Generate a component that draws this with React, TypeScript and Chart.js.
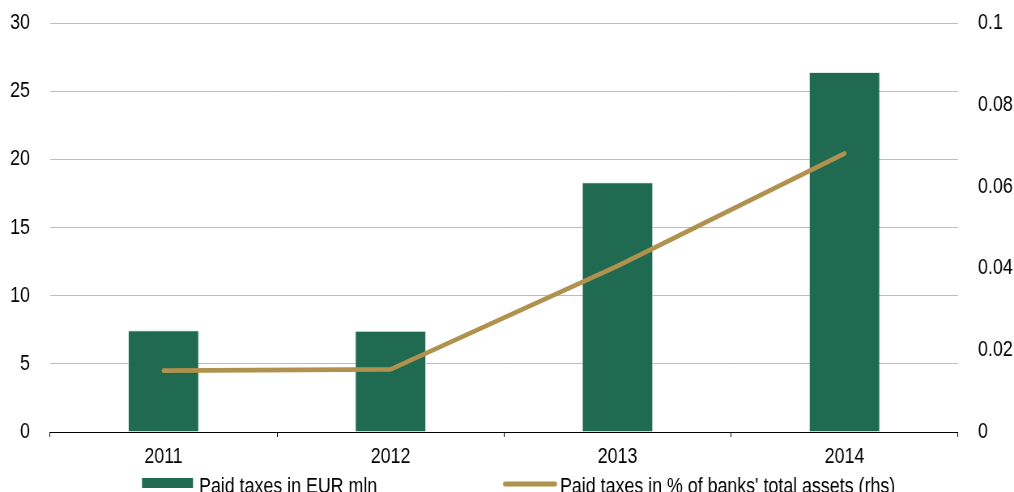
import React, { useEffect, useRef } from "react";
import { Chart, registerables } from "chart.js";

Chart.register(...registerables);

const categories = ["2011", "2012", "2013", "2014"];
const paidTaxesEurMln = [7.46, 7.43, 18.32, 26.41];
const paidTaxesPctAssets = [0.015, 0.0153, 0.0406, 0.0681];
const leftTicks = [0, 5, 10, 15, 20, 25, 30];
const rightTicks = [0, 0.02, 0.04, 0.06, 0.08, 0.1];
const seriesNames = ["Paid taxes in EUR mln", "Paid taxes in % of banks' total assets (rhs)"];

const FONT = "'Liberation Sans', Arial, sans-serif";
const FONT_SIZE = 22;
const BAR_COLOR = "#206A51";
const LINE_COLOR = "#B0914D";

// Horizontal compression to imitate a narrow typeface
const W = 1014;
const H = 492;
const SX = 0.81;
const CW = Math.round(W / SX);
const S = W / CW;
const px = (x: number) => x / S;

const legendPlugin = {
  id: "customLegend",
  afterDraw(chart: any) {
    const ctx = chart.ctx;
    ctx.save();
    ctx.font = `${FONT_SIZE}px ${FONT}`;
    ctx.textBaseline = "alphabetic";
    ctx.textAlign = "left";
    ctx.fillStyle = BAR_COLOR;
    ctx.fillRect(px(142), 478, px(193) - px(142), 10);
    ctx.fillStyle = "#000";
    ctx.fillText(chart.data.datasets[0].label, px(199), 493);
    ctx.strokeStyle = LINE_COLOR;
    ctx.lineWidth = 5;
    ctx.lineCap = "round";
    ctx.beginPath();
    ctx.moveTo(px(505), 484);
    ctx.lineTo(px(555), 484);
    ctx.stroke();
    ctx.fillStyle = "#000";
    ctx.fillText(chart.data.datasets[1].label, px(560), 493);
    ctx.restore();
  },
};

const fixY = (width: number) => (scale: any) => {
  scale.width = px(width);
  scale.paddingTop = 0;
  scale.paddingBottom = 0;
};

export default function App() {
  const ref = useRef<HTMLCanvasElement | null>(null);
  useEffect(() => {
    document.body.style.margin = "0";
    const chart = new Chart(ref.current as HTMLCanvasElement, {
      type: "bar",
      data: {
        labels: categories,
        datasets: [
          {
            type: "bar",
            label: seriesNames[0],
            data: paidTaxesEurMln,
            backgroundColor: BAR_COLOR,
            borderColor: "rgba(200,225,215,0.6)",
            borderWidth: 1,
            barPercentage: 0.313,
            categoryPercentage: 1,
            yAxisID: "y",
            order: 2,
          },
          {
            type: "line",
            label: seriesNames[1],
            data: paidTaxesPctAssets,
            borderColor: LINE_COLOR,
            borderWidth: 4.8,
            borderCapStyle: "round",
            borderJoinStyle: "miter",
            pointRadius: 0,
            tension: 0,
            yAxisID: "y1",
            order: 1,
          },
        ],
      } as any,
      options: {
        animation: false,
        responsive: false,
        maintainAspectRatio: false,
        devicePixelRatio: 1,
        layout: { padding: { top: 23, left: 0, right: 0, bottom: 0 } },
        plugins: {
          legend: { display: false },
          tooltip: { enabled: false },
        },
        scales: {
          x: {
            offset: true,
            grid: {
              display: true,
              offset: true,
              drawOnChartArea: false,
              drawTicks: true,
              tickLength: 5,
              color: "#000",
            },
            border: { display: true, color: "#000", width: 1 },
            ticks: {
              color: "#000",
              font: { family: FONT, size: FONT_SIZE },
              padding: 7,
              maxRotation: 0,
            },
            afterFit(scale: any) {
              scale.height = 60;
              scale.paddingLeft = 0;
              scale.paddingRight = 0;
            },
          },
          y: {
            position: "left",
            min: 0,
            max: 30,
            afterBuildTicks(scale: any) {
              scale.ticks = leftTicks.map((v) => ({ value: v }));
            },
            grid: { color: "#BDBDBD", lineWidth: 1, drawTicks: false },
            border: { display: false },
            ticks: {
              color: "#000",
              font: { family: FONT, size: FONT_SIZE },
              padding: px(20),
            },
            afterFit: fixY(50),
          },
          y1: {
            position: "right",
            min: 0,
            max: 0.1,
            afterBuildTicks(scale: any) {
              scale.ticks = rightTicks.map((v) => ({ value: v }));
            },
            grid: { display: false, drawTicks: false },
            border: { display: false },
            ticks: {
              color: "#000",
              font: { family: FONT, size: FONT_SIZE },
              padding: px(20),
              callback: (v: any) => String(Number(Number(v).toFixed(2))),
            },
            afterFit: fixY(56),
          },
        },
      } as any,
      plugins: [legendPlugin],
    });
    return () => chart.destroy();
  }, []);
  return (
    <div style={{ position: "absolute", left: 0, top: 0, width: W, height: H, overflow: "hidden" }}>
      <div style={{ width: CW, height: H, transform: `scaleX(${S})`, transformOrigin: "0 0" }}>
        <canvas ref={ref} width={CW} height={H} style={{ width: CW, height: H, display: "block" }} />
      </div>
    </div>
  );
}
